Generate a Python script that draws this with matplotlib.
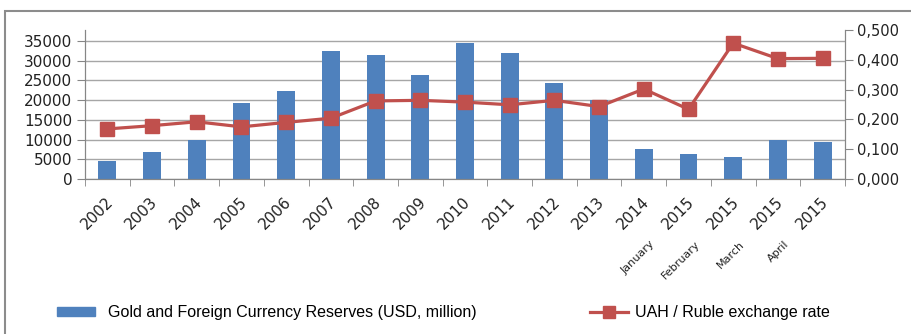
import matplotlib.pyplot as plt
import matplotlib.transforms as mtransforms
from matplotlib.patches import Rectangle, Patch
from matplotlib.lines import Line2D

years = ["2002", "2003", "2004", "2005", "2006", "2007", "2008", "2009", "2010",
         "2011", "2012", "2013", "2014", "2015", "2015", "2015", "2015"]
months = {12: "January", 13: "February", 14: "March", 15: "April"}
reserves = [4500, 6900, 9900, 19400, 22200, 32500, 31400, 26400, 34500,
            31900, 24400, 20000, 7500, 6400, 5500, 9800, 9400]
uah_rub = [0.168, 0.179, 0.192, 0.175, 0.190, 0.204, 0.262, 0.264, 0.258,
           0.249, 0.264, 0.243, 0.302, 0.234, 0.456, 0.404, 0.405]

blue = "#4F81BD"
red = "#C0504D"
axis_grey = "#868686"

fig = plt.figure(figsize=(9.12, 3.34), dpi=100)
ax = fig.add_axes([85 / 912, 1 - 179 / 334, 760 / 912, 149 / 334])
ax2 = ax.twinx()

x = list(range(len(years)))
ax.bar(x, reserves, width=0.4, color=blue, zorder=2)
ax2.plot(x, uah_rub, color=red, lw=2.3, marker="s", markersize=9.5,
         markerfacecolor=red, markeredgecolor=red, zorder=3)

ax.set_xlim(-0.5, len(years) - 0.5)
ax.set_ylim(0, 37800)
ax2.set_ylim(0, 0.5)

ax.set_yticks(range(0, 35001, 5000))
ax.set_yticklabels([str(v) for v in range(0, 35001, 5000)], fontsize=11, color="#222222")
ax2.set_yticks([0, 0.1, 0.2, 0.3, 0.4, 0.5])
ax2.set_yticklabels(["0,000", "0,100", "0,200", "0,300", "0,400", "0,500"],
                    fontsize=10.5, color="#222222")

ax.yaxis.grid(True, color="#a6a6a6", lw=1)
ax.set_axisbelow(True)

# category boundaries get the tick marks, labels sit at the centres
ax.set_xticks(x)
ax.set_xticklabels([])
ax.tick_params(axis="x", length=0)
ax.set_xticks([i - 0.5 for i in range(len(years) + 1)], minor=True)
ax.tick_params(axis="x", which="minor", length=5, color=axis_grey)
ax.tick_params(axis="y", length=6, color=axis_grey, pad=3)
ax2.tick_params(axis="y", length=6, color=axis_grey, pad=3)

xform = ax.get_xaxis_transform()
for i, lab in enumerate(years):
    t = mtransforms.offset_copy(xform, fig=fig, x=-2, y=-15, units="dots")
    ax.text(i, 0, lab, transform=t, rotation=45, ha="right", va="top",
            rotation_mode="anchor", fontsize=11, color="#222222")
for i, lab in months.items():
    t = mtransforms.offset_copy(xform, fig=fig, x=6, y=-60, units="dots")
    ax.text(i, 0, lab, transform=t, rotation=45, ha="right", va="top",
            rotation_mode="anchor", fontsize=8, color="#222222")

for a in (ax, ax2):
    a.spines["top"].set_visible(False)
    for s in ("left", "right", "bottom"):
        a.spines[s].set_color(axis_grey)
ax2.patch.set_visible(False)

legend_font = {"family": ["Liberation Sans", "DejaVu Sans"], "size": 11.5}
leg1 = fig.legend([Patch(facecolor=blue, edgecolor=blue)],
                  ["Gold and Foreign Currency Reserves (USD, million)"],
                  loc="center left", bbox_to_anchor=(57 / 912, 1 - 313 / 334),
                  frameon=False, borderpad=0, borderaxespad=0,
                  handlelength=2.4, handleheight=0.5, handletextpad=0.8,
                  prop=legend_font)
leg2 = fig.legend([Line2D([0], [0], color=red, lw=2.3, marker="s", markersize=8,
                          markerfacecolor=red, markeredgecolor=red)],
                  ["UAH / Ruble exchange rate"],
                  loc="center left", bbox_to_anchor=(590 / 912, 1 - 313 / 334),
                  frameon=False, borderpad=0, borderaxespad=0,
                  handlelength=2.4, handletextpad=0.4, prop=legend_font)

# outer chart border
fig.patches.append(Rectangle((5 / 912, -0.1), 1.1, 1.1 - 11 / 334,
                             transform=fig.transFigure, fill=False,
                             edgecolor="#8c8c8c", lw=1.5))

fig.savefig("out.png", dpi=100)
